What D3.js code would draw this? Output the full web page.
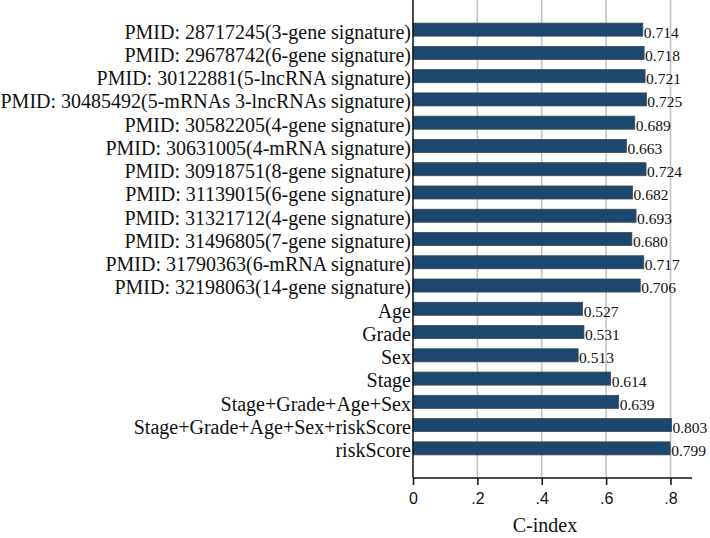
<!DOCTYPE html>
<html>
<head>
<meta charset="utf-8">
<script src="https://cdn.jsdelivr.net/npm/d3@7"></script>
<style>
  body { margin: 0; background: #fff; }
  svg { display: block; }
</style>
</head>
<body>
<svg id="chart" width="710" height="538"></svg>
<script>
// categories from top to bottom
const categories = [
    "PMID: 28717245(3-gene signature)",
    "PMID: 29678742(6-gene signature)",
    "PMID: 30122881(5-lncRNA signature)",
    "PMID: 30485492(5-mRNAs 3-lncRNAs signature)",
    "PMID: 30582205(4-gene signature)",
    "PMID: 30631005(4-mRNA signature)",
    "PMID: 30918751(8-gene signature)",
    "PMID: 31139015(6-gene signature)",
    "PMID: 31321712(4-gene signature)",
    "PMID: 31496805(7-gene signature)",
    "PMID: 31790363(6-mRNA signature)",
    "PMID: 32198063(14-gene signature)",
    "Age",
    "Grade",
    "Sex",
    "Stage",
    "Stage+Grade+Age+Sex",
    "Stage+Grade+Age+Sex+riskScore",
    "riskScore"
];
const cIndex = [0.714, 0.718, 0.721, 0.725, 0.689, 0.663, 0.724, 0.682, 0.693, 0.680,
                0.717, 0.706, 0.527, 0.531, 0.513, 0.614, 0.639, 0.803, 0.799];
const xTicks = [0, 0.2, 0.4, 0.6, 0.8];
const xTickLabels = ["0", ".2", ".4", ".6", ".8"];

const svg = d3.select("#chart");
const plotLeft = 413, plotRight = 692, plotTop = 0, plotBottom = 478;

const x = d3.scaleLinear().domain([0, 0.8]).range([plotLeft, 670.5]);
const y = d3.scaleBand()
    .domain(categories)
    .range([18, 460])
    .paddingInner(0.44)
    .paddingOuter(0.22);

// grid lines
svg.append("g")
    .selectAll("line")
    .data(xTicks.filter(d => d > 0))
    .enter().append("line")
    .attr("x1", d => x(d)).attr("x2", d => x(d))
    .attr("y1", plotTop).attr("y2", plotBottom)
    .attr("stroke", "#c4c4c4")
    .attr("stroke-width", 1.6);

// bars
svg.append("g")
    .selectAll("rect")
    .data(categories)
    .enter().append("rect")
    .attr("x", x(0))
    .attr("y", d => y(d))
    .attr("width", (d, i) => x(cIndex[i]) - x(0))
    .attr("height", y.bandwidth())
    .attr("fill", "#1c476f")
    .attr("stroke", "#3c4a56")
    .attr("stroke-width", 0.8);

// value labels
svg.append("g")
    .selectAll("text")
    .data(categories)
    .enter().append("text")
    .attr("x", (d, i) => x(cIndex[i]) + 1)
    .attr("y", d => y(d) + y.bandwidth() / 2 + 2.5)
    .attr("dy", "0.35em")
    .attr("font-family", "Liberation Serif, Times New Roman, serif")
    .attr("font-size", 15.5)
    .attr("fill", "#111")
    .text((d, i) => cIndex[i].toFixed(3));

// category labels
svg.append("g")
    .selectAll("text")
    .data(categories)
    .enter().append("text")
    .attr("x", plotLeft - 2)
    .attr("y", d => y(d) + y.bandwidth() / 2 + 2.5)
    .attr("dy", "0.32em")
    .attr("text-anchor", "end")
    .attr("font-family", "Liberation Serif, Times New Roman, serif")
    .attr("font-size", 20)
    .attr("fill", "#111")
    .text(d => d);

// y axis line
svg.append("line")
    .attr("x1", plotLeft).attr("x2", plotLeft)
    .attr("y1", plotTop).attr("y2", plotBottom)
    .attr("stroke", "#111").attr("stroke-width", 1.5);

// x axis
const xAxis = svg.append("g")
    .attr("transform", `translate(0,${plotBottom})`)
    .call(d3.axisBottom(x)
        .tickValues(xTicks)
        .tickFormat((d, i) => xTickLabels[i])
        .tickSize(7)
        .tickPadding(8)
        .tickSizeOuter(0));
xAxis.select(".domain").remove();
xAxis.append("line")
    .attr("x1", plotLeft).attr("x2", plotRight)
    .attr("stroke", "#111").attr("stroke-width", 1.5);
xAxis.selectAll(".tick line").attr("stroke", "#111").attr("stroke-width", 1.5);
xAxis.selectAll(".tick text")
    .attr("font-family", "Liberation Sans, Arial, sans-serif")
    .attr("font-size", 16)
    .attr("fill", "#111");

svg.append("text")
    .attr("x", 545)
    .attr("y", 525)
    .attr("dy", "0.35em")
    .attr("text-anchor", "middle")
    .attr("font-family", "Liberation Serif, Times New Roman, serif")
    .attr("font-size", 20)
    .attr("fill", "#111")
    .text("C-index");
</script>
</body>
</html>
